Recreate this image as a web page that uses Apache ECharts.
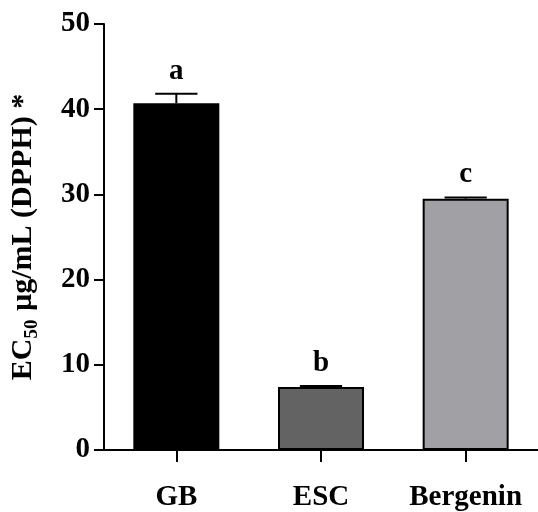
<!DOCTYPE html>
<html>
<head>
<meta charset="utf-8">
<script src="https://cdn.jsdelivr.net/npm/echarts@6/dist/echarts.min.js"></script>
<style>
html,body{margin:0;padding:0;background:#fff;}
#chart{width:538px;height:512px;}
</style>
</head>
<body>
<div id="chart"></div>
<script>
const categories = ['GB', 'ESC', 'Bergenin'];
const means = [40.7, 7.4, 29.5];
const errors = [1.1, 0.1, 0.15];
const letters = ['a', 'b', 'c'];
const yTicks = [0, 10, 20, 30, 40, 50];

const barColors = ['#000000', '#636363', '#a1a0a5'];
const FONT = '"Liberation Serif", "Times New Roman", serif';

const chart = echarts.init(document.getElementById('chart'), null, {renderer: 'canvas'});

const option = {
  animation: false,
  backgroundColor: '#ffffff',
  grid: {left: 100, right: -8, top: 24, bottom: 61, containLabel: false},
  xAxis: {
    type: 'category',
    data: categories,
    axisLine: {show: true, lineStyle: {color: '#000', width: 2}},
    axisTick: {show: true, alignWithLabel: true, interval: 0, inside: false, length: 12, lineStyle: {color: '#000', width: 2}},
    axisLabel: {interval: 0, hideOverlap: false, color: '#000', fontFamily: FONT, fontWeight: 'bold', fontSize: 29, margin: 33}
  },
  yAxis: {
    type: 'value',
    min: yTicks[0],
    max: yTicks[yTicks.length - 1],
    interval: yTicks[1] - yTicks[0],
    splitLine: {show: false},
    axisLine: {show: true, lineStyle: {color: '#000', width: 2}},
    axisTick: {show: true, length: 10, lineStyle: {color: '#000', width: 2}},
    axisLabel: {color: '#000', fontFamily: FONT, fontWeight: 'bold', fontSize: 29, margin: 14},
    name: '{m|EC}{s|50}{m| µg/mL (DPPH) *}',
    nameLocation: 'middle',
    nameRotate: 90,
    nameGap: 62,
    nameTextStyle: {
      rich: {
        m: {fontFamily: FONT, fontWeight: 'bold', fontSize: 30, color: '#000', lineHeight: 38, verticalAlign: 'middle'},
        s: {fontFamily: FONT, fontWeight: 'bold', fontSize: 19, color: '#000', lineHeight: 38, verticalAlign: 'bottom', padding: [0, 1, 0, 0]}
      }
    }
  },
  series: [
    {
      type: 'bar',
      data: means.map((v, i) => ({value: v, itemStyle: {color: barColors[i]}})),
      barWidth: 86,
      itemStyle: {borderColor: '#000', borderWidth: 2},
      z: 2
    },
    {
      type: 'custom',
      z: 3,
      data: means.map((v, i) => [i, v, errors[i]]),
      renderItem: function (params, api) {
        const i = api.value(0);
        const v = api.value(1);
        const e = api.value(2);
        const base = api.coord([i, v]);
        const top = api.coord([i, v + e]);
        const half = api.size([1, 0])[0] * 0.146;
        return {
          type: 'group',
          children: [
            {type: 'line', shape: {x1: top[0], y1: base[1], x2: top[0], y2: top[1]}, style: {stroke: '#000', lineWidth: 2}},
            {type: 'line', shape: {x1: top[0] - half, y1: top[1], x2: top[0] + half, y2: top[1]}, style: {stroke: '#000', lineWidth: 2}},
            {type: 'text', x: top[0], y: top[1] - 8, style: {text: letters[params.dataIndex], font: 'bold 29px ' + FONT, fill: '#000', align: 'center', verticalAlign: 'bottom'}}
          ]
        };
      }
    }
  ]
};
chart.setOption(option);
</script>
</body>
</html>
